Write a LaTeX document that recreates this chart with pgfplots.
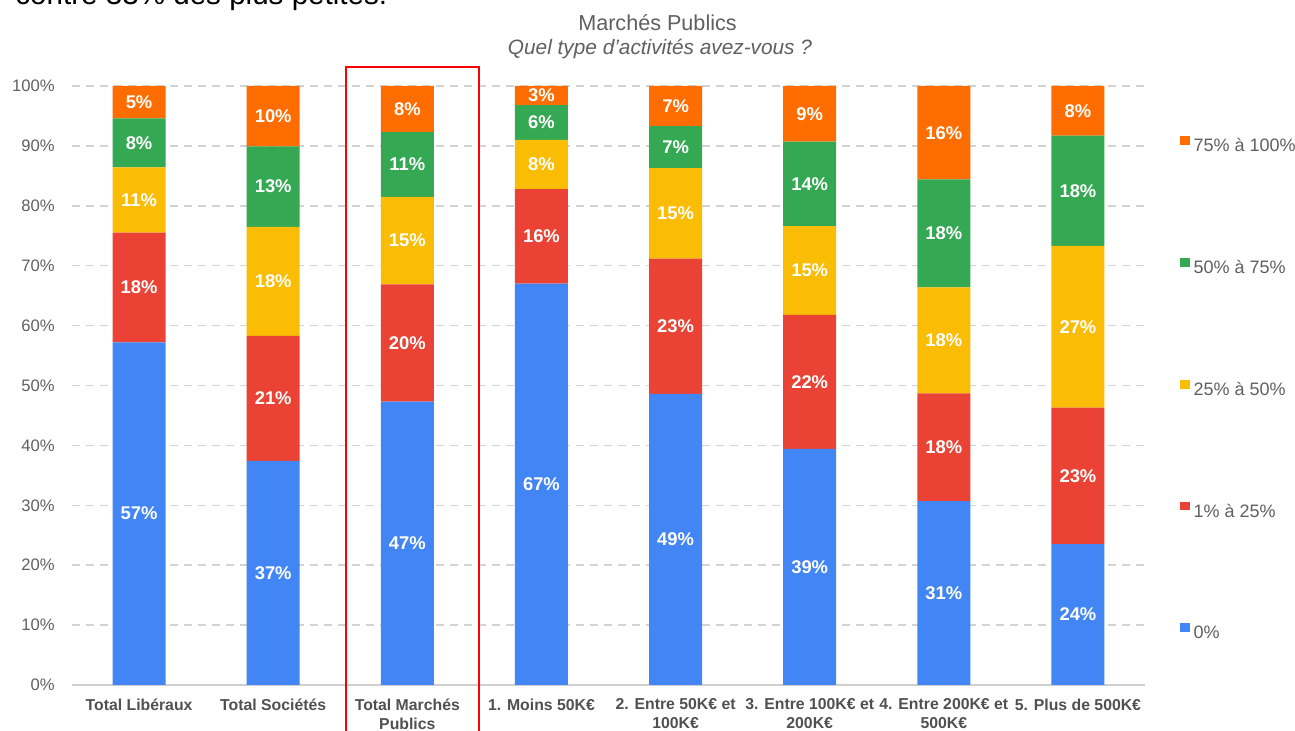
\documentclass[border=0pt]{standalone}
\usepackage{pgfplots}
\pgfplotsset{compat=1.18}
\usepackage{pgfplotstable}
\usepackage{fontspec}
\setmainfont{Liberation Sans}
\definecolor{cBlue}{HTML}{4285F4}
\definecolor{cRed}{HTML}{EA4335}
\definecolor{cYellow}{HTML}{FBBC04}
\definecolor{cGreen}{HTML}{34A853}
\definecolor{cOrange}{HTML}{FF6D01}
\definecolor{cGrid}{HTML}{D3D3D3}
\definecolor{cBase}{HTML}{CFCFCF}
\definecolor{cText}{HTML}{5F5F5F}
\definecolor{cTick}{HTML}{505050}

% segment heights (percent)
\pgfplotstableread{
x  b    r    ye   g    o
0  57.2 18.3 10.9 8.2  5.4
1  37.4 20.9 18.2 13.4 10.1
2  47.3 19.6 14.6 10.8 7.7
3  67.0 15.8 8.2  5.8  3.2
4  48.6 22.6 15.1 7.0  6.7
5  39.4 22.4 14.8 14.1 9.3
6  30.7 18.0 17.7 18.0 15.6
7  23.5 22.8 27.0 18.4 8.3
}\data

% vertical centre of every segment and its printed label
\pgfplotstableread{
x  mb    lb mr    lr my    ly mg    lg mo    lo
0  28.6  57 66.35 18 80.95 11 90.5  8  97.3  5
1  18.7  37 47.85 21 67.4  18 83.2  13 94.95 10
2  23.65 47 57.1  20 74.2  15 86.9  11 96.15 8
3  33.5  67 74.9  16 86.9  8  93.9  6  98.4  3
4  24.3  49 59.9  23 78.75 15 89.8  7  96.65 7
5  19.7  39 50.6  22 69.2  15 83.65 14 95.35 9
6  15.35 31 39.7  18 57.55 18 75.4  18 92.2  16
7  11.75 24 34.9  23 59.8  27 82.5  18 95.85 8
}\mids

\pgfplotsset{
  samebox/.style={
    at={(36pt,23pt)}, anchor=south west,
    scale only axis, width=536.5pt, height=299.5pt,
    xmin=-0.5, xmax=7.5, ymin=0, ymax=100,
  },
  lbl/.style={draw=none, mark=none,
    nodes near coords={\pgfplotspointmeta\%}, point meta=explicit symbolic,
    every node near coord/.append style={anchor=center, font=\fontsize{9.2}{11}\selectfont\bfseries, text=white, inner sep=0pt}},
}

\begin{document}
\begin{tikzpicture}
\useasboundingbox (0,0) rectangle (647.5pt,365.5pt);
% cut-off text at the top of the reference
\node[anchor=base west, inner sep=0pt, font=\fontsize{14.8}{17}\selectfont, text=black] at (7.5pt,363pt) {contre 33\% des plus petites.};
% titles
\node[anchor=base, inner sep=0pt, font=\fontsize{10.8}{13}\selectfont, text=cText] at (328.75pt,350pt) {Marchés Publics};
\node[anchor=base, inner sep=0pt, font=\fontsize{10.4}{13}\selectfont\itshape, text=cText] at (330pt,338pt) {Quel type d'activités avez-vous ?};
\begin{axis}[
  samebox,
  ybar stacked, bar width=26.5pt,
  clip=false,
  xtick={0,1,2,3,4,5,6,7},
  xticklabels={Total Libéraux, Total Sociétés, {Total Marchés\\Publics}, 1. Moins 50K€, {2. Entre 50K€ et\\100K€}, {3. Entre 100K€ et\\200K€}, {4. Entre 200K€ et\\500K€}, 5. Plus de 500K€},
  ytick={0,10,20,30,40,50,60,70,80,90,100},
  yticklabels={0\%,10\%,20\%,30\%,40\%,50\%,60\%,70\%,80\%,90\%,100\%},
  axis line style={draw=none},
  major tick length=0pt,
  ymajorgrids,
  grid style={cGrid, line width=0.75pt, dash pattern=on 4pt off 3pt},
  yticklabel style={font=\fontsize{8.3}{10}\selectfont, text=cText, inner sep=0pt, xshift=-8.5pt},
  xticklabel style={font=\fontsize{7.9}{9.5}\selectfont\bfseries, text=cTick, align=center, inner sep=0pt, anchor=north, yshift=-6.7pt},
  /pgf/number format/assume math mode=true,
  legend style={at={(1.0326,0.4925)}, anchor=west, draw=none, fill=none, inner sep=0pt, row sep=48.8pt, column sep=0pt, font=\fontsize{9}{10}\selectfont, text=cText},
  legend cell align=left,
  reverse legend,
  legend image code/.code={\fill[#1] (0pt,0.9pt) rectangle (4.6pt,5.2pt);},
]
\addplot[fill=cBlue, draw=none] table[x=x, y=b] {\data};
\addplot[fill=cRed, draw=none] table[x=x, y=r] {\data};
\addplot[fill=cYellow, draw=none] table[x=x, y=ye] {\data};
\addplot[fill=cGreen, draw=none] table[x=x, y=g] {\data};
\addplot[fill=cOrange, draw=none] table[x=x, y=o] {\data};
\legend{0\%, 1\% à 25\%, 25\% à 50\%, 50\% à 75\%, 75\% à 100\%}
\draw[cBase, line width=0.8pt] (axis cs:-0.5,0) -- (axis cs:7.5,0);
\end{axis}
% labels in the middle of each segment
\begin{axis}[samebox, hide axis, clip=false]
\addplot[lbl] table[x=x, y=mb, meta=lb] {\mids};
\addplot[lbl] table[x=x, y=mr, meta=lr] {\mids};
\addplot[lbl] table[x=x, y=my, meta=ly] {\mids};
\addplot[lbl] table[x=x, y=mg, meta=lg] {\mids};
\addplot[lbl] table[x=x, y=mo, meta=lo] {\mids};
\end{axis}
\draw[red, line width=1pt] (173pt,-3pt) -- (173pt,332.15pt) -- (239.5pt,332.15pt) -- (239.5pt,-3pt);
\end{tikzpicture}
\end{document}
